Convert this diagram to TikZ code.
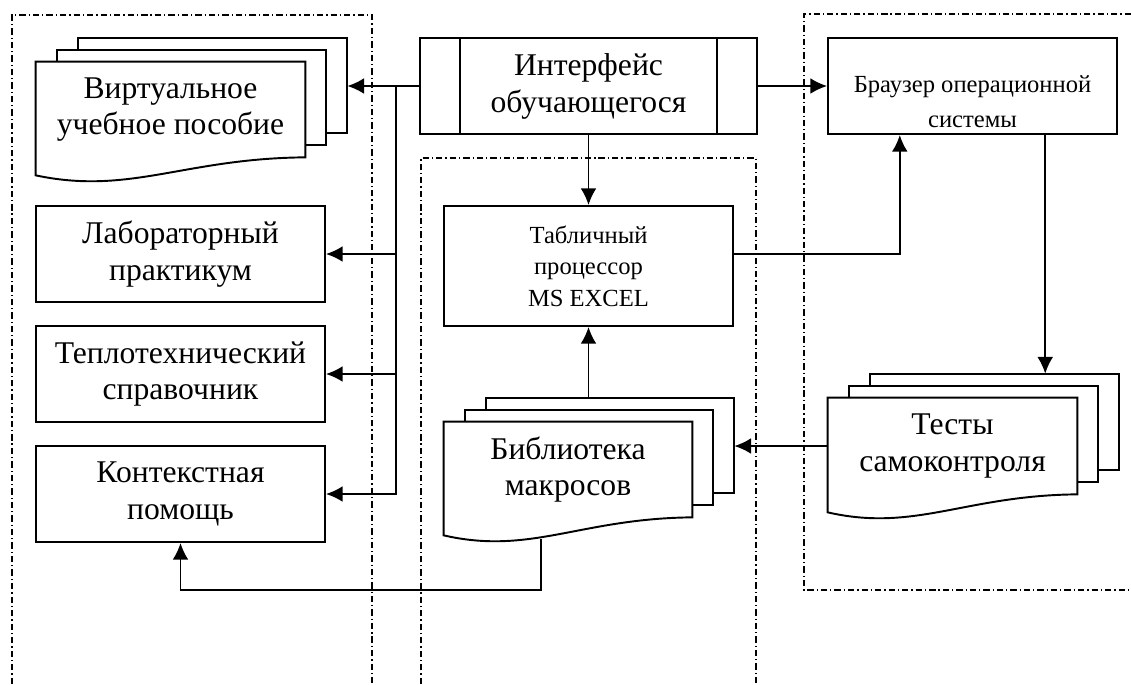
\documentclass[tikz,border=0pt]{standalone}
\usepackage{fontspec}
\setmainfont{Liberation Serif}
\usetikzlibrary{arrows.meta,calc}

\tikzset{
  krupno/.style={font=\fontsize{18}{21}\selectfont},
  melko/.style={font=\fontsize{14}{18}\selectfont},
  blok/.style={draw, line width=1.1pt, minimum width=5.78cm, minimum height=1.92cm,
    align=center, inner sep=0pt, krupno},
  dok/.style={minimum width=#1, minimum height=1.9cm, align=center, inner sep=0pt, krupno},
  ramka/.style={line width=0.7pt, dash pattern=on 3.6pt off 1.7pt on 0.7pt off 1.7pt},
  svyaz/.style={line width=1.1pt},
  strel/.style={svyaz, -{Latex[length=9.5pt,width=9pt]}}
}

% стопка документов позади узла
\newcommand{\stopka}[1]{%
  \draw[svyaz] (#1.north west) -- (#1.north east) -- (#1.south east)
    .. controls ($(#1.south west)!0.55!(#1.south east)+(0,1)$)
    and ($(#1.south west)!0.35!(#1.south east)+(0,38)$)
    .. ($(#1.south west)+(0,18)$) -- cycle;
  \draw[svyaz] ($(#1.north west)+(21,0)$) -- ++(0,-12)
    -- ($(#1.north east)+(21,-12)$) -- ($(#1.south east)+(21,-12)$)
    -- ($(#1.south east)+(0,-12)$);
  \draw[svyaz] ($(#1.north west)+(42,-12)$) -- ++(0,-12)
    -- ($(#1.north east)+(42,-24)$) -- ($(#1.south east)+(42,-24)$)
    -- ($(#1.south east)+(21,-24)$);
  \coordinate (#1-zad) at ($(#1.north east)+(42,-24)$);
}

\begin{document}
\begin{tikzpicture}[x=0.02cm,y=-0.02cm]
\useasboundingbox (0,0) rectangle (1131,684);

% Области
\draw[ramka] (12,684) -- (12,15) -- (372,15) -- (372,684);
\draw[ramka] (421,684) -- (421,158) -- (756,158) -- (756,684);
\draw[ramka] (1131,14) -- (804,14) -- (804,590) -- (1131,590);

% Узлы
\node[dok=5.38cm] (virt) at (170.5,109.5) {Виртуальное\\учебное пособие};
\stopka{virt}
\node[blok] (lab) at (180.5,254) {Лабораторный\\практикум};
\node[blok] (tepl) at (180.5,374) {Теплотехнический\\справочник};
\node[blok] (ktx) at (180.5,494) {Контекстная\\помощь};

\node[blok, minimum width=6.74cm] (intf) at (588.5,86) {Интерфейс\\обучающегося};
\draw[svyaz] ($(intf.north west)+(41,0)$) -- ($(intf.south west)+(41,0)$);
\draw[svyaz] ($(intf.north east)+(-41,0)$) -- ($(intf.south east)+(-41,0)$);

\node[blok, melko, minimum height=2.4cm] (excel) at (588.5,266)
  {Табличный\\процессор\\MS EXCEL};
\node[dok=4.96cm] (lib) at (568,469.5) {Библиотека\\макросов};
\stopka{lib}

\node[blok, font=\fontsize{14}{20}\selectfont] (brauz) at (972.5,86)
  {\rule{0pt}{27pt}Браузер операционной\\системы};
\node[dok=4.98cm, minimum height=1.92cm] (test) at (952.5,446) {Тесты\\самоконтроля};
\stopka{test}

% Связи
\coordinate (stvol) at (396,86);
\draw[strel] (intf.west) -- (intf.west -| virt-zad);
\draw[strel] (stvol) |- (ktx.east);
\draw[strel] (stvol |- lab.east) -- (lab.east);
\draw[strel] (stvol |- tepl.east) -- (tepl.east);

\draw[strel] (intf.east) -- (brauz.west);
\draw[strel] (intf.south) -- (excel.north);

\coordinate (exR) at ($(excel.north east)!0.4!(excel.south east)$);
\coordinate (brL) at ($(brauz.south west)!0.25!(brauz.south east)$);
\coordinate (brR) at ($(brauz.south west)!0.75!(brauz.south east)$);
\draw[strel] (exR) -| (brL);
\draw[strel] (brR) -- (brR |- test-zad);
\draw[strel] (test.west) -- (test.west -| lib-zad);
\draw[strel] (excel.south |- lib-zad) -- (excel.south);

\coordinate (libniz) at ($(lib.south west)!0.39!(lib.south east)+(0,22)$);
\draw[strel] (libniz) -- ++(0,51) -| (ktx.south);

\end{tikzpicture}
\end{document}
